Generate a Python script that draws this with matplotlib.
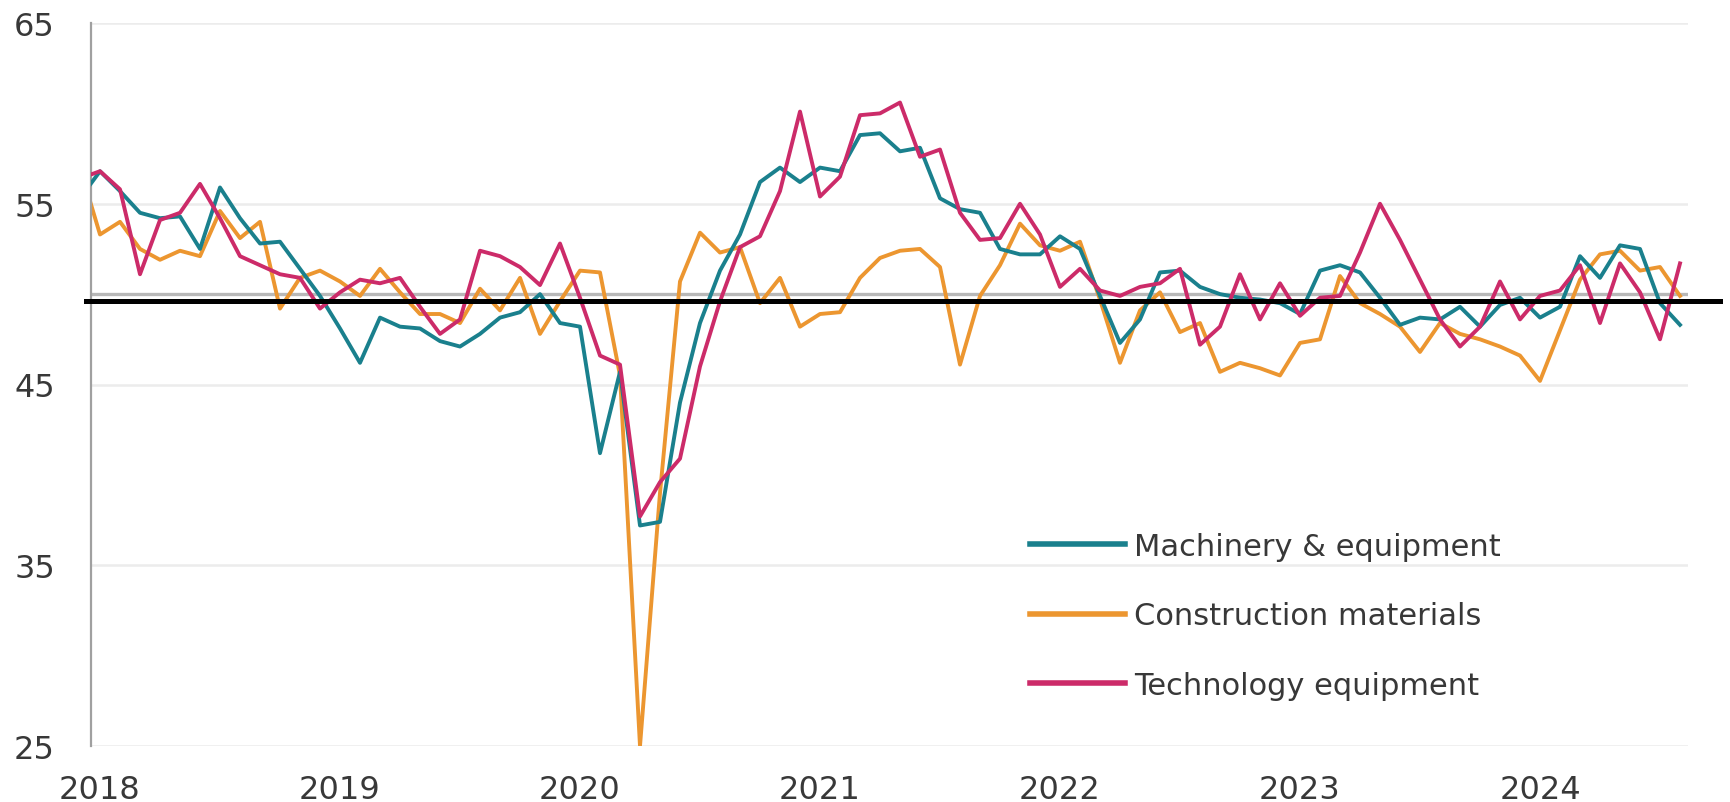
import numpy as np
import matplotlib
matplotlib.use("Agg")
import matplotlib.pyplot as plt

# monthly readings, Dec 2017 (clipped at the axis) to Aug 2024
months = np.arange(-1, 80)

machinery = [55.3, 56.8, 55.7, 54.5, 54.2, 54.3, 52.5, 55.9, 54.2, 52.8, 52.9,
             51.4, 49.9, 48.1, 46.2, 48.7, 48.2, 48.1, 47.4, 47.1, 47.8,
             48.7, 49.0, 50.0, 48.4, 48.2, 41.2, 45.7, 37.2, 37.4, 44.0,
             48.4, 51.3, 53.3, 56.2, 57.0, 56.2, 57.0, 56.8, 58.8, 58.9,
             57.9, 58.1, 55.3, 54.7, 54.5, 52.5, 52.2, 52.2, 53.2, 52.5,
             49.9, 47.3, 48.6, 51.2, 51.3, 50.4, 50.0, 49.8, 49.7, 49.5,
             48.9, 51.3, 51.6, 51.2, 49.8, 48.3, 48.7, 48.6, 49.3, 48.2,
             49.4, 49.8, 48.7, 49.3, 52.1, 50.9, 52.7, 52.5, 49.5, 48.3]

construction = [57.0, 53.3, 54.0, 52.5, 51.9, 52.4, 52.1, 54.6, 53.1, 54.0, 49.2,
                50.9, 51.3, 50.7, 49.9, 51.4, 50.1, 48.9, 48.9, 48.4, 50.3,
                49.1, 50.9, 47.8, 49.6, 51.3, 51.2, 45.5, 25.0, 39.0, 50.7,
                53.4, 52.3, 52.6, 49.5, 50.9, 48.2, 48.9, 49.0, 50.9, 52.0,
                52.4, 52.5, 51.5, 46.1, 49.9, 51.6, 53.9, 52.7, 52.4, 52.9,
                49.7, 46.2, 49.1, 50.1, 47.9, 48.4, 45.7, 46.2, 45.9, 45.5,
                47.3, 47.5, 51.0, 49.5, 48.9, 48.2, 46.8, 48.4, 47.8, 47.5,
                47.1, 46.6, 45.2, 48.0, 50.8, 52.2, 52.4, 51.3, 51.5, 49.9]

technology = [56.4, 56.8, 55.8, 51.1, 54.1, 54.5, 56.1, 54.2, 52.1, 51.6, 51.1,
              50.9, 49.2, 50.1, 50.8, 50.6, 50.9, 49.3, 47.8, 48.6, 52.4,
              52.1, 51.5, 50.5, 52.8, 49.8, 46.6, 46.1, 37.7, 39.6, 40.9,
              46.0, 49.6, 52.6, 53.2, 55.7, 60.1, 55.4, 56.5, 59.9, 60.0,
              60.6, 57.6, 58.0, 54.5, 53.0, 53.1, 55.0, 53.3, 50.4, 51.4,
              50.2, 49.9, 50.4, 50.6, 51.4, 47.2, 48.2, 51.1, 48.6, 50.6,
              48.8, 49.8, 49.9, 52.3, 55.0, 53.0, 50.8, 48.6, 47.1, 48.2,
              50.7, 48.6, 49.9, 50.2, 51.6, 48.4, 51.7, 50.1, 47.5, 51.7]

year_ticks = [0, 12, 24, 36, 48, 60, 72]
year_labels = ["2018", "2019", "2020", "2021", "2022", "2023", "2024"]
y_ticks = [25, 35, 45, 55, 65]
marker_line = 49.6

teal = "#1a808d"
orange = "#ec9630"
pink = "#cc2b69"
text_col = "#383838"

plt.rcParams["font.family"] = ["DejaVu Sans"]

fig = plt.figure(figsize=(17.31, 8.03), dpi=100)
ax = fig.add_axes([91 / 1731, 56 / 803, (1688 - 91) / 1731, (747 - 24) / 803])

for y in y_ticks:
    ax.axhline(y, color="#ececec", lw=1.8, zorder=0)
ax.axhline(50, color="#b8b8b8", lw=2.4, zorder=1)

ax.plot(months, machinery, color=teal, lw=2.8, label="Machinery & equipment", zorder=3)
ax.plot(months, construction, color=orange, lw=2.8, label="Construction materials", zorder=2)
ax.plot(months, technology, color=pink, lw=2.8, label="Technology equipment", zorder=4)

ax.axhline(marker_line, xmin=-0.003, xmax=1.02, color="black", lw=3.6,
           clip_on=False, zorder=6)

ax.set_xlim(-0.45, 79.4)
ax.set_ylim(25, 65)
ax.set_xticks(year_ticks)
ax.set_xticklabels(year_labels)
ax.set_yticks(y_ticks)
ax.tick_params(axis="x", length=0, pad=20, labelsize=23, labelcolor=text_col)
ax.tick_params(axis="y", length=0, pad=26, labelsize=23, labelcolor=text_col)

for s in ["top", "right", "bottom"]:
    ax.spines[s].set_visible(False)
ax.spines["left"].set_color("#a0a0a0")
ax.spines["left"].set_linewidth(1.6)

leg = ax.legend(loc="upper left", bbox_to_anchor=(1030 / 1731, 1 - 533 / 803),
                bbox_transform=fig.transFigure, frameon=False, fontsize=22,
                handlelength=3.1, handletextpad=0.3, labelspacing=1.32,
                borderpad=0, borderaxespad=0)
for h in leg.get_lines():
    h.set_linewidth(4)
for t in leg.get_texts():
    t.set_color(text_col)

fig.savefig("out.png", dpi=100)
